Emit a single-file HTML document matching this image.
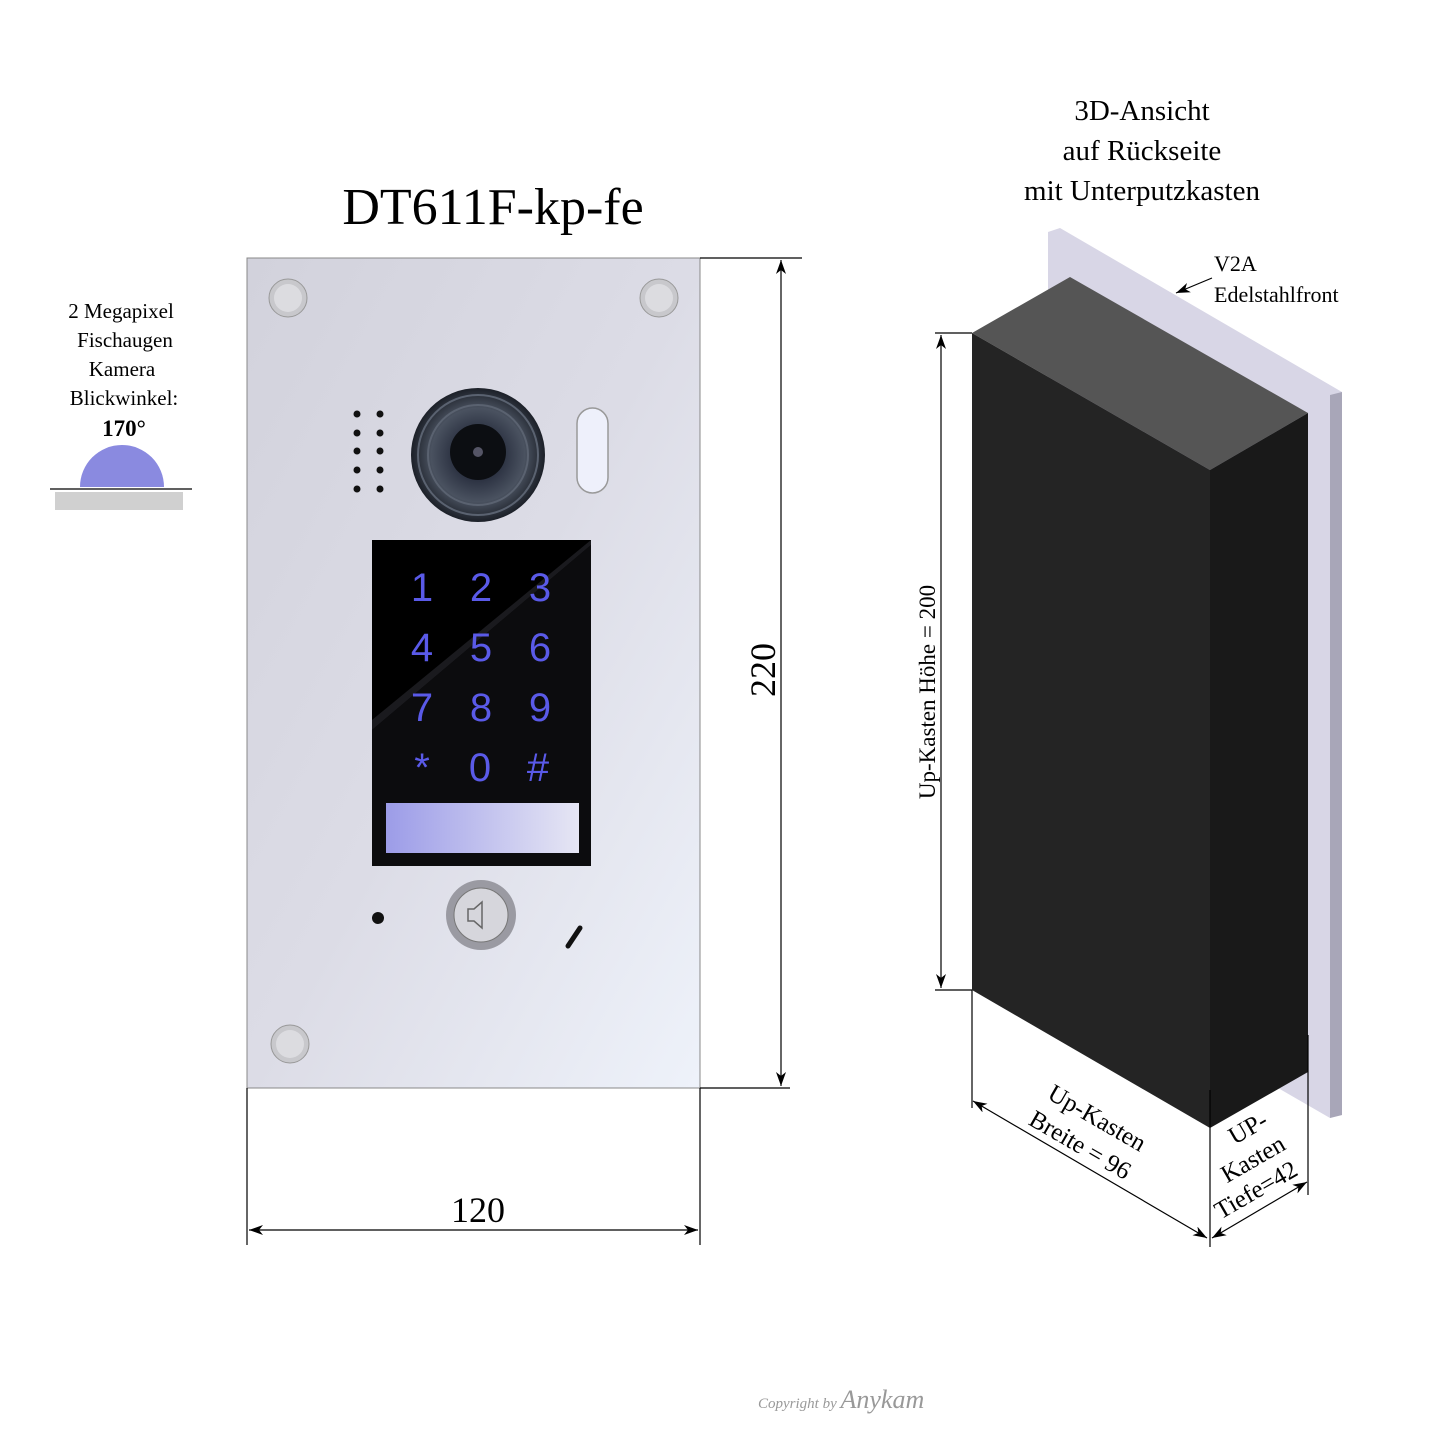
<!DOCTYPE html>
<html><head><meta charset="utf-8"><style>
body{margin:0;background:#fff}
</style></head><body>
<svg width="1436" height="1436" viewBox="0 0 1436 1436" xmlns="http://www.w3.org/2000/svg" font-family="Liberation Serif, serif">
<defs>
<linearGradient id="pl" x1="0" y1="0" x2="1" y2="1">
<stop offset="0" stop-color="#d2d2dc"/><stop offset="0.5" stop-color="#dcdce6"/><stop offset="1" stop-color="#eef2fa"/></linearGradient>
<linearGradient id="lab" x1="0" y1="0" x2="1" y2="0">
<stop offset="0" stop-color="#9c9ce8"/><stop offset="1" stop-color="#e6e6f4"/></linearGradient>
<radialGradient id="cam" cx="0.5" cy="0.5" r="0.5">
<stop offset="0" stop-color="#111"/><stop offset="0.35" stop-color="#2a3040"/><stop offset="0.7" stop-color="#4a5260"/><stop offset="1" stop-color="#1c2028"/></radialGradient>
<marker id="a" viewBox="0 0 14 10" refX="14" refY="5" markerWidth="14" markerHeight="10" orient="auto-start-reverse" markerUnits="userSpaceOnUse"><path d="M0,0 L14,5 L0,10 L4,5 Z" fill="#000"/></marker>
</defs>

<text x="493" y="224" font-size="52" text-anchor="middle">DT611F-kp-fe</text>

<g font-size="21" text-anchor="middle">
<text x="121" y="318">2 Megapixel</text>
<text x="125" y="347">Fischaugen</text>
<text x="122" y="376">Kamera</text>
<text x="124" y="405">Blickwinkel:</text>
<text x="124" y="436" font-weight="bold" font-size="23">170°</text>
</g>
<rect x="55" y="492" width="128" height="18" fill="#d0d0d0"/>
<path d="M80,487 A42,42 0 0 1 164,487 Z" fill="#8a8ae0"/>
<line x1="50" y1="489" x2="192" y2="489" stroke="#000" stroke-width="1.2"/>

<rect x="247" y="258" width="453" height="830" fill="url(#pl)" stroke="#888" stroke-width="1"/>
<g>
<circle cx="288" cy="298" r="19" fill="#c8c8cc" stroke="#999"/><circle cx="288" cy="298" r="14" fill="#dcdce0"/>
<circle cx="659" cy="298" r="19" fill="#c8c8cc" stroke="#999"/><circle cx="659" cy="298" r="14" fill="#dcdce0"/>
<circle cx="290" cy="1044" r="19" fill="#c8c8cc" stroke="#999"/><circle cx="290" cy="1044" r="14" fill="#dcdce0"/>
</g>
<g fill="#111">
<circle cx="357" cy="414" r="3.5"/><circle cx="380" cy="414" r="3.5"/>
<circle cx="357" cy="433" r="3.5"/><circle cx="380" cy="433" r="3.5"/>
<circle cx="357" cy="451" r="3.5"/><circle cx="380" cy="451" r="3.5"/>
<circle cx="357" cy="470" r="3.5"/><circle cx="380" cy="470" r="3.5"/>
<circle cx="357" cy="489" r="3.5"/><circle cx="380" cy="489" r="3.5"/>
</g>
<circle cx="478" cy="455" r="67" fill="url(#cam)"/>
<circle cx="478" cy="455" r="60" fill="none" stroke="#5a6270" stroke-width="2"/>
<circle cx="478" cy="455" r="50" fill="none" stroke="#5a6270" stroke-width="2"/>
<circle cx="478" cy="452" r="28" fill="#0c0e12"/>
<circle cx="478" cy="452" r="5" fill="#556"/>
<rect x="577" y="408" width="31" height="85" rx="15.5" fill="#eef0fb" stroke="#999" stroke-width="1.5"/>

<rect x="372" y="540" width="219" height="326" fill="#000"/>
<polygon points="591,540 591,545 372,730 372,720" fill="#1a1a1e"/>
<polygon points="372,730 591,545 591,866 372,866" fill="#0c0c0e"/>
<g style="font-family:'Liberation Sans',sans-serif;font-size:40px" fill="#5a5ae8" text-anchor="middle">
<text x="422" y="601">1</text><text x="481" y="601">2</text><text x="540" y="601">3</text>
<text x="422" y="661">4</text><text x="481" y="661">5</text><text x="540" y="661">6</text>
<text x="422" y="721">7</text><text x="481" y="721">8</text><text x="540" y="721">9</text>
<text x="422" y="781">*</text><text x="480" y="781">0</text><text x="538" y="781">#</text>
</g>
<rect x="386" y="803" width="193" height="50" fill="url(#lab)"/>

<circle cx="378" cy="918" r="6" fill="#111"/>
<circle cx="481" cy="915" r="35" fill="#9a9aa2"/>
<circle cx="481" cy="915" r="27" fill="#d6d6dc" stroke="#777"/>
<path d="M468,909 h6 l8,-7 v26 l-8,-7 h-6 z" fill="none" stroke="#666" stroke-width="1.5"/>
<line x1="568" y1="946" x2="580" y2="928" stroke="#111" stroke-width="5" stroke-linecap="round"/>

<g stroke="#000" stroke-width="1.2" fill="none">
<line x1="700" y1="258" x2="802" y2="258"/>
<line x1="700" y1="1088" x2="790" y2="1088"/>
<line x1="781" y1="260" x2="781" y2="1086" marker-start="url(#a)" marker-end="url(#a)"/>
<line x1="247" y1="1088" x2="247" y2="1245"/>
<line x1="700" y1="1088" x2="700" y2="1245"/>
<line x1="249" y1="1230" x2="698" y2="1230" marker-start="url(#a)" marker-end="url(#a)"/>
</g>
<text font-size="36" text-anchor="middle" transform="translate(775,670) rotate(-90)">220</text>
<text x="478" y="1222" font-size="36" text-anchor="middle">120</text>

<g font-size="29" text-anchor="middle">
<text x="1142" y="120">3D-Ansicht</text>
<text x="1142" y="160">auf  Rückseite</text>
<text x="1142" y="200">mit Unterputzkasten</text>
</g>
<polygon points="1048,232 1060,228 1342,392 1342,1115 1330,1118 1048,955" fill="#d8d6e6"/>
<polygon points="1330,395 1342,392 1342,1115 1330,1118" fill="#a8a6b8"/>
<polygon points="972,333 1070,277 1308,413 1210,470" fill="#555"/>
<polygon points="972,333 1210,470 1210,1128 972,990" fill="#242424"/>
<polygon points="1210,470 1308,413 1308,1072 1210,1128" fill="#191919"/>

<g font-size="22">
<text x="1214" y="271">V2A</text>
<text x="1214" y="302">Edelstahlfront</text>
</g>
<g stroke="#000" stroke-width="1.2" fill="none">
<line x1="1212" y1="278" x2="1176" y2="293" marker-end="url(#a)"/>
<line x1="935" y1="333" x2="972" y2="333"/>
<line x1="935" y1="990" x2="972" y2="990"/>
<line x1="941" y1="335" x2="941" y2="988" marker-start="url(#a)" marker-end="url(#a)"/>
<line x1="972" y1="990" x2="972" y2="1108"/>
<line x1="1210" y1="1090" x2="1210" y2="1247"/>
<line x1="1308" y1="1035" x2="1308" y2="1195"/>
<line x1="973" y1="1101" x2="1207" y2="1238" marker-start="url(#a)" marker-end="url(#a)"/>
<line x1="1212" y1="1238" x2="1307" y2="1182" marker-start="url(#a)" marker-end="url(#a)"/>
</g>
<text font-size="23" text-anchor="middle" transform="translate(935,692) rotate(-90)">Up-Kasten  Höhe = 200</text>
<text font-size="25" text-anchor="middle" transform="translate(1093,1125) rotate(30)">Up-Kasten</text>
<text font-size="25" text-anchor="middle" transform="translate(1076,1152) rotate(30)">Breite = 96</text>
<text font-size="25" text-anchor="middle" transform="translate(1252,1135) rotate(-30)">UP-</text>
<text font-size="25" text-anchor="middle" transform="translate(1257,1166) rotate(-30)">Kasten</text>
<text font-size="25" text-anchor="middle" transform="translate(1260,1197) rotate(-30)">Tiefe=42</text>

<text x="758" y="1408" font-size="15" font-style="italic" fill="#999">Copyright by <tspan font-size="26">Anykam</tspan></text>
</svg>
</body></html>
